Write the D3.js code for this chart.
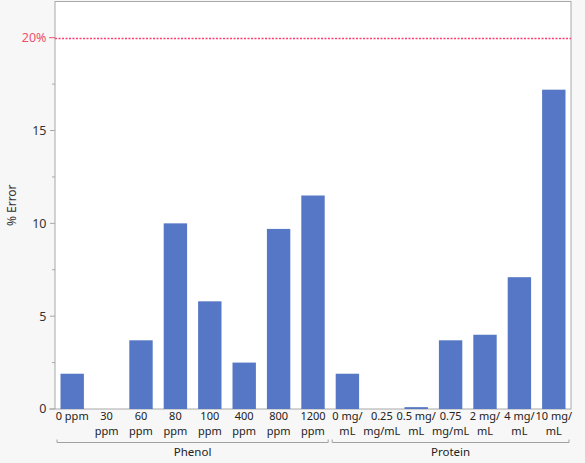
<!DOCTYPE html>
<html>
<head>
<meta charset="utf-8">
<script src="https://cdn.jsdelivr.net/npm/d3@7.9.0/dist/d3.min.js"></script>
<style>
  body { margin: 0; background: #f7f7f7; font-family: "Noto Sans", sans-serif; }
  svg { display: block; }
</style>
</head>
<body>
<svg id="chart" width="585" height="463"></svg>
<script>
// categories, in plot order
const categories = ['0 ppm', '30 ppm', '60 ppm', '80 ppm', '100 ppm', '400 ppm', '800 ppm', '1200 ppm',
    '0 mg/mL', '0.25 mg/mL', '0.5 mg/mL', '0.75 mg/mL', '2 mg/mL', '4 mg/mL', '10 mg/mL'];
// how each tick label wraps
const tickLines = [['0 ppm'], ['30', 'ppm'], ['60', 'ppm'], ['80', 'ppm'], ['100', 'ppm'], ['400', 'ppm'], ['800', 'ppm'], ['1200', 'ppm'],
    ['0 mg/', 'mL'], ['0.25', 'mg/mL'], ['0.5 mg/', 'mL'], ['0.75', 'mg/mL'], ['2 mg/', 'mL'], ['4 mg/', 'mL'], ['10 mg/', 'mL']];
const errors = [1.9, 0, 3.7, 10.0, 5.8, 2.5, 9.7, 11.5, 1.9, 0, 0.1, 3.7, 4.0, 7.1, 17.2];
const groups = ['Phenol', 'Protein'];
const groupSizes = [8, 7];
const yTicks = [0, 5, 10, 15];
const yMinorTicks = [2.5, 7.5, 12.5, 17.5];
const limit = 20;

const plotLeft = 55, plotRight = 571, plotTop = 1.5, plotBottom = 409;
const svg = d3.select('#chart');

let x = d3.scaleBand().domain(categories).range([plotLeft, plotRight]).paddingInner(0.32).paddingOuter(0.16);
let y = d3.scaleLinear().domain([0, 21.95]).range([plotBottom, plotTop]);

// plot area
svg.append('rect')
   .attr('x', plotLeft).attr('y', plotTop)
   .attr('width', plotRight - plotLeft).attr('height', plotBottom - plotTop)
   .attr('fill', '#fff').attr('stroke', '#a8a8a8');

// bars
svg.selectAll('rect.bar')
   .data(errors)
   .join('rect')
   .attr('class', 'bar')
   .attr('x', (d, i) => x(categories[i]))
   .attr('width', x.bandwidth())
   .attr('y', (d) => y(d))
   .attr('height', (d) => plotBottom - y(d))
   .attr('fill', '#5677c5');

// y axis ticks
yTicks.forEach((t) => {
    svg.append('line').attr('x1', plotLeft - 5).attr('x2', plotLeft)
       .attr('y1', y(t)).attr('y2', y(t)).attr('stroke', '#a8a8a8');
    svg.append('text').attr('x', 46.5).attr('y', y(t)).attr('dy', '0.35em')
       .attr('text-anchor', 'end').attr('font-size', 12.5).attr('fill', '#333')
       .text(t);
});
yMinorTicks.forEach((t) => {
    svg.append('line').attr('x1', plotLeft - 3).attr('x2', plotLeft)
       .attr('y1', y(t)).attr('y2', y(t)).attr('stroke', '#a8a8a8');
});
svg.append('line').attr('x1', plotLeft - 6).attr('x2', plotLeft)
   .attr('y1', plotBottom).attr('y2', plotBottom).attr('stroke', '#a8a8a8');

// 20% reference line
svg.append('line').attr('x1', plotLeft - 6).attr('x2', plotLeft)
   .attr('y1', y(limit)).attr('y2', y(limit)).attr('stroke', '#f0506e');
svg.append('line').attr('x1', plotLeft).attr('x2', plotRight)
   .attr('y1', Math.round(y(limit)) + 0.5).attr('y2', Math.round(y(limit)) + 0.5)
   .attr('stroke', '#ff3d6e').attr('stroke-width', 1.3).attr('stroke-dasharray', '2,1.5');
svg.append('text').attr('x', 46.5).attr('y', y(limit)).attr('dy', '0.35em')
   .attr('text-anchor', 'end').attr('font-size', 12.5).attr('fill', '#f0506e')
   .text(limit + '%');

// y title
svg.append('text')
   .attr('transform', `translate(16,${(plotTop + plotBottom) / 2}) rotate(-90)`)
   .attr('text-anchor', 'middle').attr('font-size', 12).attr('fill', '#333')
   .text('% Error');

// x tick labels
categories.forEach((c, i) => {
    let cx = x(c) + x.bandwidth() / 2;
    let t = svg.append('text').attr('text-anchor', 'middle')
               .attr('font-size', 11).attr('fill', '#222');
    tickLines[i].forEach((line, j) => {
        t.append('tspan').attr('x', cx).attr('y', 420 + j * 15).text(line);
    });
});

// group brackets
let start = 0;
groups.forEach((g, k) => {
    let x0 = x(categories[start]) - x.step() * x.paddingOuter() + 2;
    let last = categories[start + groupSizes[k] - 1];
    let x1 = x(last) + x.bandwidth() + x.step() * x.paddingOuter() - 2;
    svg.append('path')
       .attr('d', `M${x0},439.5V442.5H${x1}V439.5`)
       .attr('fill', 'none').attr('stroke', '#a0a0a0');
    svg.append('text').attr('x', (x0 + x1) / 2).attr('y', 455.5)
       .attr('text-anchor', 'middle').attr('font-size', 11.5).attr('fill', '#222')
       .text(g);
    start += groupSizes[k];
});
</script>
</body>
</html>
